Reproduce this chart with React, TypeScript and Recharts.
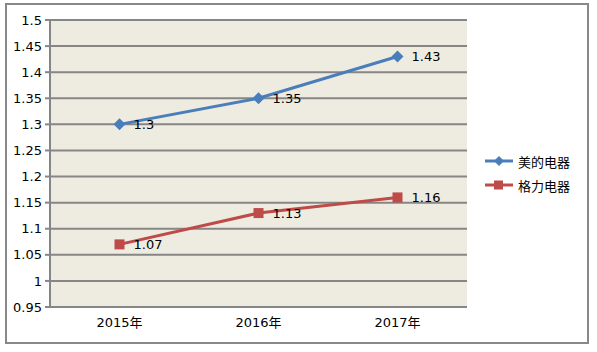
import React from 'react';
import { LineChart, Line, XAxis, YAxis, CartesianGrid, LabelList } from 'recharts';

const years = ['2015年', '2016年', '2017年'];
const midea = [1.3, 1.35, 1.43];
const gree = [1.07, 1.13, 1.16];
const yTicks = [0.95, 1, 1.05, 1.1, 1.15, 1.2, 1.25, 1.3, 1.35, 1.4, 1.45, 1.5];
const seriesNames = ['美的电器', '格力电器'];

const BLUE = '#4A7EBB';
const RED = '#BE4B48';
const GRID = '#868686';
const FONT = 'Tahoma, "DejaVu Sans", "Noto Sans CJK SC", sans-serif';

const data = years.map((year, i) => ({ year, pos: i + 0.5, midea: midea[i], gree: gree[i] }));

const Diamond = (props: any) => {
  const { cx, cy } = props;
  if (cx == null || cy == null) return null;
  return <path d={`M${cx},${cy - 6}L${cx + 6},${cy}L${cx},${cy + 6}L${cx - 6},${cy}Z`} fill={BLUE} />;
};

const Square = (props: any) => {
  const { cx, cy } = props;
  if (cx == null || cy == null) return null;
  return <rect x={cx - 5} y={cy - 5} width={10} height={10} fill={RED} />;
};

const LegendBox = () => (
  <div style={{ position: 'absolute', left: 484, top: 149, fontFamily: FONT, fontSize: 13, color: '#000' }}>
    {seriesNames.map((name, i) => (
      <div key={name} style={{ display: 'flex', alignItems: 'center', height: 24 }}>
        <svg width={30} height={12} style={{ marginRight: 4 }}>
          <line x1={1} y1={6} x2={29} y2={6} stroke={i === 0 ? BLUE : RED} strokeWidth={3} />
          {i === 0 ? (
            <path d="M15,1L20,6L15,11L10,6Z" fill={BLUE} />
          ) : (
            <rect x={10} y={1.5} width={9} height={9} fill={RED} />
          )}
        </svg>
        <span>{name}</span>
      </div>
    ))}
  </div>
);

export default function App() {
  return (
    <div style={{ position: 'absolute', left: 0, top: 0, width: 597, height: 352, background: '#fff' }}>
      <div
        style={{
          position: 'absolute',
          left: 5,
          top: 3,
          width: 580,
          height: 337,
          border: '2.5px solid #888',
        }}
      />
      <div style={{ position: 'absolute', left: 0, top: 0 }}>
        <LineChart width={597} height={352} data={data} margin={{ top: 20, right: 130, bottom: 0, left: 0 }}>
          <CartesianGrid vertical={false} fill="#EEECE1" stroke={GRID} strokeWidth={2} />
          <XAxis
            xAxisId="bounds"
            dataKey="pos"
            type="number"
            domain={[0, 3]}
            ticks={[0, 1, 2, 3]}
            tick={false}
            height={0}
            axisLine={false}
            tickLine={{ stroke: GRID, strokeWidth: 2 }}
            tickSize={5}
          />
          <XAxis
            xAxisId="cat"
            dataKey="year"
            scale="band"
            height={45}
            axisLine={{ stroke: GRID, strokeWidth: 2 }}
            tickLine={false}
            tickSize={5}
            tickMargin={6}
            tick={{ fill: '#000', fontSize: 13, fontFamily: FONT }}
          />
          <YAxis
            width={50}
            domain={[0.95, 1.5]}
            ticks={yTicks}
            interval={0}
            axisLine={{ stroke: GRID, strokeWidth: 2 }}
            tickLine={{ stroke: GRID, strokeWidth: 2 }}
            tickSize={5}
            tickMargin={3}
            tick={{ fill: '#000', fontSize: 13, fontFamily: FONT }}
            tickFormatter={(v: number) => String(Number(v.toFixed(2)))}
          />
          <Line
            xAxisId="cat"
            dataKey="midea"
            name={seriesNames[0]}
            stroke={BLUE}
            strokeWidth={3}
            dot={<Diamond />}
            activeDot={false}
            isAnimationActive={false}
          >
            <LabelList dataKey="midea" position="right" offset={14} fill="#000" fontSize={13} fontFamily={FONT} />
          </Line>
          <Line
            xAxisId="cat"
            dataKey="gree"
            name={seriesNames[1]}
            stroke={RED}
            strokeWidth={3}
            dot={<Square />}
            activeDot={false}
            isAnimationActive={false}
          >
            <LabelList dataKey="gree" position="right" offset={14} fill="#000" fontSize={13} fontFamily={FONT} />
          </Line>
        </LineChart>
      </div>
      <LegendBox />
    </div>
  );
}
